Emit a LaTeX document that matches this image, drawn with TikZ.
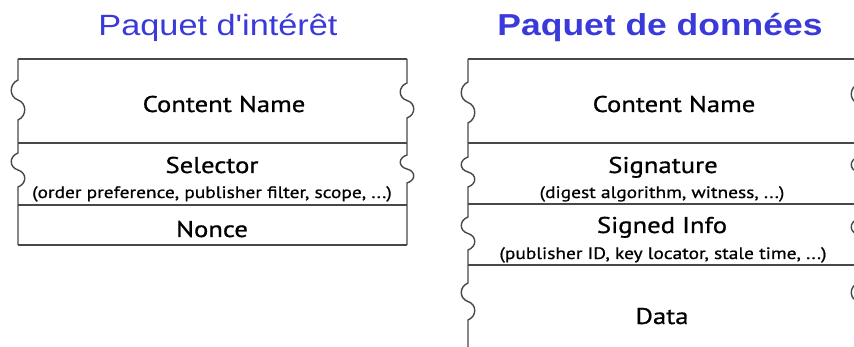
\documentclass[tikz,border=0pt]{standalone}
\usepackage{fontspec}
\setmainfont{Liberation Sans}
\newfontfamily\titlefont[FakeStretch=1.17]{Liberation Sans}
\newfontfamily\fieldfont[FakeStretch=1.17, FakeBold=0.8]{PT Sans}
\usetikzlibrary{calc}
\definecolor{titleblue}{RGB}{58,58,218}
\definecolor{rulegray}{RGB}{72,72,72}
\tikzset{
	wave/.style={
			to path={.. controls ($(\tikztostart)!0.1!(\tikztotarget)+(-9,0)$) and ($(\tikztostart)!0.42!(\tikztotarget)+(-9,0)$)
					.. ($(\tikztostart)!0.5!(\tikztotarget)$)
					.. controls ($(\tikztostart)!0.58!(\tikztotarget)+(9,0)$) and ($(\tikztostart)!0.9!(\tikztotarget)+(9,0)$)
					.. (\tikztotarget)}
		}
}

\begin{document}
\begin{tikzpicture}[x=1pt, y=-1pt,
     R/.style = {draw=rulegray, line width=1.4pt},
 Title/.style = {anchor=base, text=titleblue, inner sep=0pt},
 Field/.style = {anchor=base, inner sep=0pt, font=\fieldfont\fontsize{22.8}{25}\selectfont},
   Sub/.style = {anchor=base, inner sep=0pt, font=\fieldfont\fontsize{16.6}{18}\selectfont}
                    ]
\useasboundingbox (0,0) rectangle (854,347);
\clip (0,0) rectangle (854,347);

\node (ti) [Title, font=\titlefont\fontsize{29.3}{32}\selectfont] at (218,36) {Paquet d'intérêt};
\node (td) [Title, font=\titlefont\bfseries\fontsize{30.3}{33}\selectfont] at (660,36) {Paquet de données};

\draw[R] (18,59) -- (407,59)
         (18,143) -- (407,143)
         (18,205) -- (407,205)
         (18,245) -- (407,245);
\draw[R] (18,59) -- (18,80) to[wave] (18,120) -- (18,153) to[wave] (18,187) -- (18,245);
\draw[R] (407,59) -- (407,83) to[wave] (407,118) -- (407,155) to[wave] (407,183) -- (407,245);

\node (ci) [Field] at (224,112) {Content Name};
\node (se) [Field] at (212,173) {Selector};
\node (sd) [Sub]   at (212,198) {(order preference, publisher filter, scope, ...)};
\node (no) [Field] at (212,237) {Nonce};

\draw[R] (468,59) -- (860,59)
         (468,143) -- (860,143)
         (468,204) -- (860,204)
         (468,265) -- (860,265);
\draw[R] (468,59) -- (468,82) to[wave] (468,123) -- (468,157) to[wave] (468,187)
         -- (468,217) to[wave] (468,250) -- (468,283) to[wave] (468,320) -- (468,350);
\draw[R] (858,59) -- (858,84) to[wave] (858,123) -- (858,157) to[wave] (858,187)
         -- (858,219) to[wave] (858,250) -- (858,283) to[wave] (858,320) -- (858,350);

\node (cd) [Field] at (674,112) {Content Name};
\node (sg) [Field] at (663,173) {Signature};
\node (sgd)[Sub]   at (662,198) {(digest algorithm, witness, ...)};
\node (si) [Field] at (662,233) {Signed Info};
\node (sid)[Sub]   at (663,259) {(publisher ID, key locator, stale time, ...)};
\node (da) [Field] at (662,324) {Data};
\end{tikzpicture}
\end{document}
